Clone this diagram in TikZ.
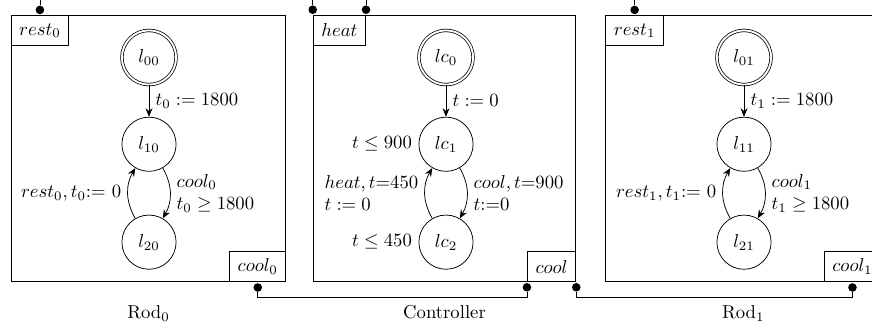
\documentclass[tikz,border=0pt]{standalone}
\usetikzlibrary{arrows.meta,positioning}

\begin{document}
\begin{tikzpicture}[
  x=0.535pt, y=-0.535pt,
  node distance=17pt,
  frame/.style={draw, line width=0.6pt, minimum width=147pt, minimum height=142.3pt, inner sep=0pt},
  port/.style={draw, line width=0.6pt, minimum height=16pt, inner xsep=4.3pt, inner ysep=0pt},
  loc/.style={draw, circle, minimum size=29pt, inner sep=0pt},
  initloc/.style={loc, double, double distance=1pt},
  dot/.style={fill, circle, inner sep=0pt, minimum size=4.6pt},
  arrow/.style={-{Stealth[length=1.6mm, width=1.3mm]}}
]
\useasboundingbox (0,0) rectangle (872,330);
\clip (0,0) rectangle (872,330);

\coordinate (top) at (0,0);
\coordinate (bus) at (0,297);

% automata frames
\node[frame] (rod0) at (148.5,148.7) {};
\node[frame, minimum width=140.4pt] (ctrl) at (444.5,148.5) {};
\node[frame] (rod1) at (743.2,148.7) {};

\node[below=9pt of rod0] (rod0lbl) {Rod$_0$};
\node[below=9pt of ctrl] (ctrllbl) {Controller};
\node[below=9pt of rod1] (rod1lbl) {Rod$_1$};

% ports
\node[port, anchor=north west] (rest0) at (rod0.north west) {$rest_0$};
\node[port, anchor=south east] (cool0) at (rod0.south east) {$cool_0$};
\node[port, anchor=north west] (heat) at (ctrl.north west) {$heat$};
\node[port, anchor=south east] (cool) at (ctrl.south east) {$cool$};
\node[port, anchor=north west] (rest1) at (rod1.north west) {$rest_1$};
\node[port, anchor=south east] (cool1) at (rod1.south east) {$cool_1$};

\node[dot, above=0.3pt of rest0.north] (drest0) {};
\node[dot, above=0.3pt of heat.north west] (dheatl) {};
\node[dot, above=0.3pt of heat.north east] (dheatr) {};
\node[dot, above=0.3pt of rest1.north] (drest1) {};
\node[dot, below=0.3pt of cool0.south] (dcool0) {};
\node[dot, below=0.3pt of cool.south west] (dcooll) {};
\node[dot, below=0.3pt of cool.south east] (dcoolr) {};
\node[dot, below=0.3pt of cool1.south] (dcool1) {};

% Rod 0
\node[initloc] (l00) at (149,57.5) {$l_{00}$};
\node[loc, below=of l00] (l10) {$l_{10}$};
\node[loc, below=23pt of l10] (l20) {$l_{20}$};

% Controller
\node[initloc] (lc0) at (446,57.5) {$lc_0$};
\node[loc, below=of lc0, label=left:{$t \leq 900$}] (lc1) {$lc_1$};
\node[loc, below=23pt of lc1, label=left:{$t \leq 450$}] (lc2) {$lc_2$};

% Rod 1
\node[initloc] (l01) at (744,57.5) {$l_{01}$};
\node[loc, below=of l01] (l11) {$l_{11}$};
\node[loc, below=23pt of l11] (l21) {$l_{21}$};

\draw[arrow] (l00) -- node[right] {$t_0 := 1800$} (l10);
\draw[arrow] (l10) to[bend left=30] node[right, align=left] {$cool_0$\\$t_0 \geq 1800$} (l20);
\draw[arrow] (l20) to[bend left=30] node[left] {$rest_0, t_0{:=}\ 0$} (l10);

\draw[arrow] (lc0) -- node[right] {$t := 0$} (lc1);
\draw[arrow] (lc1) to[bend left=30] node[right, align=left] {$cool, t{=}900$\\$t{:=}0$} (lc2);
\draw[arrow] (lc2) to[bend left=30] node[left, align=left] {$heat, t{=}450$\\$t := 0$} (lc1);

\draw[arrow] (l01) -- node[right] {$t_1 := 1800$} (l11);
\draw[arrow] (l11) to[bend left=30] node[right, align=left] {$cool_1$\\$t_1 \geq 1800$} (l21);
\draw[arrow] (l21) to[bend left=30] node[left] {$rest_1, t_1{:=}\ 0$} (l11);

% wires
\draw (drest0) -- (drest0 |- top);
\draw (dheatl) -- (dheatl |- top);
\draw (dheatr) -- (dheatr |- top);
\draw (drest1) -- (drest1 |- top);
\draw (dcool0) -- (dcool0 |- bus) -- (dcooll |- bus) -- (dcooll);
\draw (dcoolr) -- (dcoolr |- bus) -- (dcool1 |- bus) -- (dcool1);

\end{tikzpicture}
\end{document}
